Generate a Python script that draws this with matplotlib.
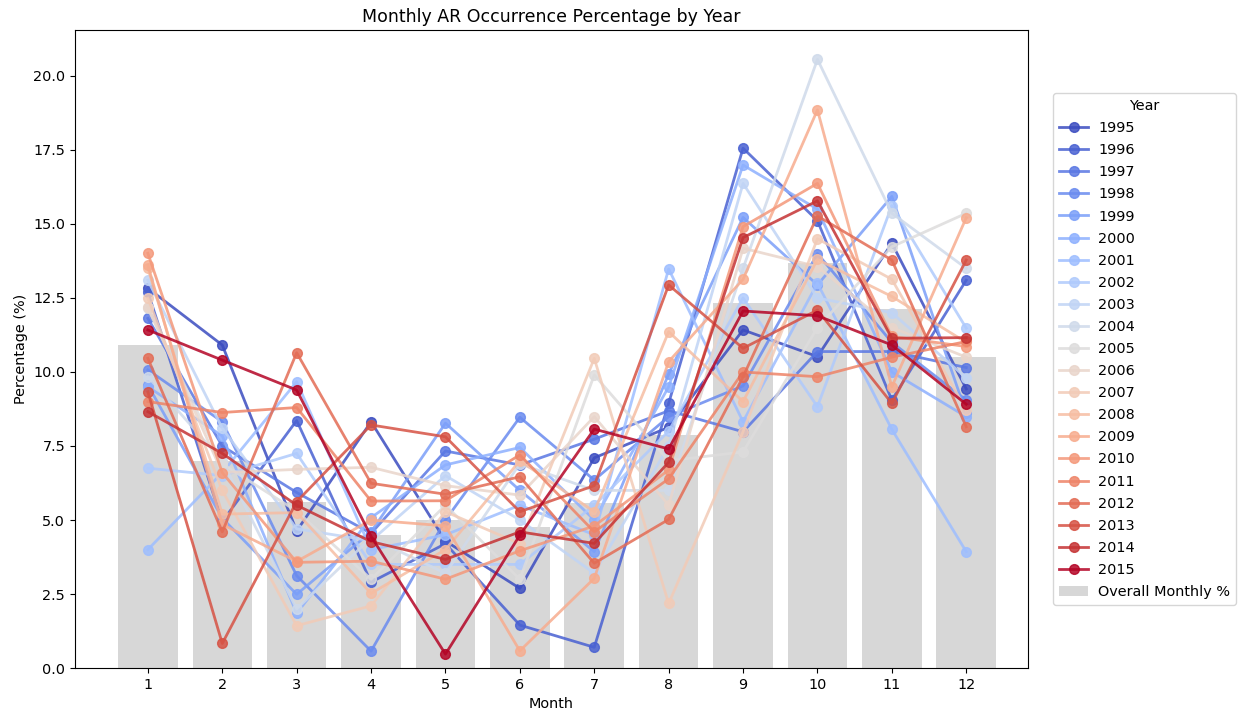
import numpy as np
import matplotlib
matplotlib.use("Agg")
import matplotlib.pyplot as plt

plt.rcParams["font.size"] = 10.4

months = list(range(1, 13))
years = list(range(1995, 2016))

# overall monthly share (%)
overall = [10.9, 7.0, 5.6, 4.5, 5.0, 4.76, 5.57, 7.87, 12.33, 13.68, 12.13, 10.5]

# yearly monthly share (%)
y1995 = [12.83, 10.91, 4.63, 8.32, 4.29, 2.69, 7.10, 8.13, 11.42, 10.52, 14.35, 9.43]
y1996 = [12.70, 4.95, 8.36, 2.90, 4.20, 1.45, 0.70, 8.94, 17.56, 15.11, 9.05, 13.10]
y1997 = [11.81, 7.50, 5.93, 4.55, 7.33, 6.86, 7.73, 8.69, 7.98, 10.69, 10.69, 10.15]
y1998 = [10.07, 8.32, 3.12, 0.57, 5.00, 8.47, 6.35, 8.49, 9.53, 14.00, 11.00, 9.05]
y1999 = [9.56, 5.06, 2.49, 4.60, 8.27, 6.00, 3.93, 9.93, 15.22, 12.94, 15.93, 8.60]
y2000 = [9.50, 7.84, 1.85, 5.08, 6.86, 7.45, 5.00, 9.50, 16.99, 15.50, 10.00, 8.49]
y2001 = [4.00, 6.60, 9.67, 4.00, 4.50, 5.50, 4.50, 13.48, 8.32, 13.00, 8.06, 3.93]
y2002 = [6.75, 6.50, 7.25, 3.50, 3.50, 3.50, 5.50, 8.00, 12.50, 8.83, 15.62, 11.48]
y2003 = [13.10, 8.10, 4.70, 4.30, 6.50, 5.00, 3.20, 7.50, 16.37, 12.50, 12.00, 9.80]
y2004 = [9.84, 7.00, 2.00, 4.40, 3.20, 6.90, 6.00, 6.00, 13.50, 20.56, 15.36, 13.50]
y2005 = [12.15, 6.90, 5.30, 3.00, 5.50, 3.00, 9.90, 7.00, 7.30, 11.50, 14.23, 15.36]
y2006 = [12.20, 6.60, 6.71, 6.78, 6.16, 5.84, 8.49, 5.50, 14.18, 13.56, 11.50, 10.50]
y2007 = [12.49, 6.00, 1.43, 2.10, 5.28, 4.20, 10.46, 2.18, 7.98, 14.50, 13.13, 8.72]
y2008 = [13.50, 5.20, 5.25, 2.52, 4.00, 7.00, 5.28, 11.36, 9.00, 13.80, 12.55, 11.00]
y2009 = [13.61, 4.85, 3.60, 5.00, 4.80, 0.58, 3.03, 10.35, 13.13, 18.85, 9.50, 15.21]
y2010 = [14.01, 6.60, 3.57, 3.61, 3.00, 3.96, 4.80, 6.69, 14.91, 16.37, 11.20, 10.86]
y2011 = [9.00, 8.63, 8.80, 5.64, 5.65, 7.20, 4.60, 6.39, 10.00, 9.84, 10.50, 11.03]
y2012 = [10.46, 4.60, 10.65, 6.24, 5.87, 6.46, 3.54, 5.02, 9.84, 15.27, 13.78, 8.15]
y2013 = [9.33, 0.83, 5.62, 8.21, 7.81, 5.28, 6.16, 12.94, 10.80, 12.09, 8.94, 13.78]
y2014 = [8.66, 7.25, 5.50, 4.27, 3.67, 4.60, 4.21, 6.95, 14.54, 15.78, 11.14, 11.16]
y2015 = [11.42, 10.40, 9.39, 4.45, 0.47, 4.49, 8.07, 7.40, 12.06, 11.90, 10.91, 8.91]

yearly = [y1995, y1996, y1997, y1998, y1999, y2000, y2001, y2002, y2003, y2004,
          y2005, y2006, y2007, y2008, y2009, y2010, y2011, y2012, y2013, y2014, y2015]

fig = plt.figure(figsize=(12.39, 7.17), dpi=100)
ax = fig.add_axes([0.0605, 0.0683, 0.7692, 0.8898])

ax.bar(months, overall, width=0.8, color="lightgray", alpha=0.9,
       label="Overall Monthly %", zorder=1)

cmap = plt.get_cmap("coolwarm")
colors = cmap(np.linspace(0, 1, len(years)))
for yr, vals, c in zip(years, yearly, colors):
    ax.plot(months, vals, marker="o", color=c, linewidth=2, markersize=7,
            alpha=0.85, label=str(yr), zorder=2)

ax.set_xticks(months)
ax.set_xlim(0.02, 12.83)
ax.set_ylim(0, 21.55)
ax.set_title("Monthly AR Occurrence Percentage by Year", fontsize=12.5)
ax.set_xlabel("Month")
ax.set_ylabel("Percentage (%)")

ax.legend(title="Year", loc="center left", bbox_to_anchor=(1.022, 0.5),
          labelspacing=0.56, handletextpad=0.7, borderaxespad=0.3)

fig.savefig("out.png", dpi=100)
